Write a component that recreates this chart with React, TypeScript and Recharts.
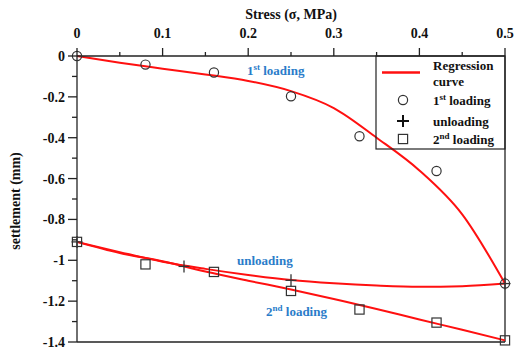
import React from "react";
import {
  ComposedChart,
  Line,
  Scatter,
  XAxis,
  YAxis,
  ReferenceLine,
} from "recharts";

// ---- data ----
const stress = [0, 0.08, 0.16, 0.25, 0.33, 0.42, 0.5];
const firstLoading = [0, -0.042, -0.081, -0.197, -0.393, -0.563, -1.114];
const secondLoading = [-0.91, -1.02, -1.057, -1.15, -1.241, -1.305, -1.392];
const unloadStress = [0, 0.125, 0.25, 0.5];
const unloading = [-0.91, -1.03, -1.098, -1.114];

const fitStress = [0, 0.05, 0.1, 0.15, 0.2, 0.25, 0.3, 0.35, 0.4, 0.45, 0.5];
const firstFit = [0, -0.033, -0.062, -0.09, -0.122, -0.172, -0.255, -0.4, -0.56, -0.775, -1.114];
const unloadFit = [-0.91, -0.96, -1.007, -1.042, -1.072, -1.097, -1.113, -1.124, -1.13, -1.127, -1.114];
const secondFit = [-0.91, -0.965, -1.005, -1.055, -1.1, -1.143, -1.19, -1.238, -1.29, -1.34, -1.392];

const xTicks = [0, 0.05, 0.1, 0.15, 0.2, 0.25, 0.3, 0.35, 0.4, 0.45, 0.5];
const yTicks = [0, -0.1, -0.2, -0.3, -0.4, -0.5, -0.6, -0.7, -0.8, -0.9, -1, -1.1, -1.2, -1.3, -1.4];

const xTitle = "Stress (σ, MPa)";
const yTitle = "settlement (mm)";

const toPts = (xs: number[], ys: number[]) => xs.map((x, i) => ({ x, y: ys[i] }));

const FONT = "'Liberation Serif', 'Times New Roman', serif";
const AXIS = "#222";
const RED = "#ff1010";
const BLUE = "#2a7cc9";
const MARK = "#333";

const TICK_SIZE = 8;
const TICK_MARGIN = 2;

const XTick = (props: any) => {
  const { x, y, payload } = props;
  const v = payload.value as number;
  const axisY = y + TICK_SIZE + TICK_MARGIN;
  const major = Math.round(v * 100) % 10 === 0;
  return (
    <g>
      <line x1={x} x2={x} y1={axisY} y2={axisY - (major ? 8 : 4)} stroke={AXIS} strokeWidth={1.3} />
      {major && (
        <text x={x} y={axisY - 18} textAnchor="middle" fontFamily={FONT} fontWeight="bold" fontSize={14} fill="#111">
          {String(v)}
        </text>
      )}
    </g>
  );
};

const YTick = (props: any) => {
  const { x, y, payload } = props;
  const v = payload.value as number;
  const axisX = x + TICK_SIZE + TICK_MARGIN;
  const major = Math.round(Math.abs(v) * 10) % 2 === 0;
  return (
    <g>
      <line x1={axisX} x2={axisX - (major ? 9 : 5)} y1={y} y2={y} stroke={AXIS} strokeWidth={1.3} />
      {major && (
        <text x={axisX - 12} y={y + 5} textAnchor="end" fontFamily={FONT} fontWeight="bold" fontSize={14} fill="#111">
          {String(v)}
        </text>
      )}
    </g>
  );
};

const CircleShape = (p: any) => (
  <circle cx={p.cx} cy={p.cy} r={4.6} fill="none" stroke={MARK} strokeWidth={1.2} />
);
const SquareShape = (p: any) => (
  <rect x={p.cx - 4.6} y={p.cy - 4.6} width={9.2} height={9.2} fill="none" stroke={MARK} strokeWidth={1.2} />
);
const PlusShape = (p: any) => (
  <g stroke={MARK} strokeWidth={1.3}>
    <line x1={p.cx - 5.5} x2={p.cx + 5.5} y1={p.cy} y2={p.cy} />
    <line x1={p.cx} x2={p.cx} y1={p.cy - 6} y2={p.cy + 6} />
  </g>
);

const Sup = ({ base, sup, rest }: { base: string; sup: string; rest: string }) => (
  <>
    <tspan>{base}</tspan>
    <tspan fontSize={9} dy={-5}>{sup}</tspan>
    <tspan dy={5}>{rest}</tspan>
  </>
);

export default function App() {
  const W = 515;
  const H = 351;
  return (
    <div style={{ position: "fixed", left: 0, top: 0, width: W, height: H, background: "#fff" }}>
      <ComposedChart width={W} height={H} margin={{ top: 26, left: 17, right: 10, bottom: 9 }}>
        <XAxis
          xAxisId={0}
          type="number"
          dataKey="x"
          orientation="top"
          domain={[0, 0.5]}
          ticks={xTicks}
          interval={0}
          height={30}
          tickSize={TICK_SIZE}
          tickMargin={TICK_MARGIN}
          tickLine={{ stroke: "none" }}
          axisLine={{ stroke: AXIS, strokeWidth: 1.3 }}
          tick={<XTick />}
        />
        <YAxis
          yAxisId={0}
          type="number"
          dataKey="y"
          domain={[-1.4, 0]}
          ticks={yTicks}
          interval={0}
          width={60}
          tickSize={TICK_SIZE}
          tickMargin={TICK_MARGIN}
          tickLine={{ stroke: "none" }}
          axisLine={{ stroke: AXIS, strokeWidth: 1.3 }}
          tick={<YTick />}
        />
        <ReferenceLine x={0.5} stroke={AXIS} strokeWidth={1.3} />
        <ReferenceLine y={-1.4} stroke={AXIS} strokeWidth={1.3} />

        <Line data={toPts(fitStress, firstFit)} dataKey="y" type="monotone" stroke={RED} strokeWidth={2} dot={false} activeDot={false} isAnimationActive={false} />
        <Line data={toPts(fitStress, unloadFit)} dataKey="y" type="monotone" stroke={RED} strokeWidth={2} dot={false} activeDot={false} isAnimationActive={false} />
        <Line data={toPts(fitStress, secondFit)} dataKey="y" type="monotone" stroke={RED} strokeWidth={2} dot={false} activeDot={false} isAnimationActive={false} />

        <Scatter data={toPts(stress, firstLoading)} dataKey="y" shape={CircleShape} isAnimationActive={false} />
        <Scatter data={toPts(unloadStress, unloading)} dataKey="y" shape={PlusShape} isAnimationActive={false} />
        <Scatter data={toPts(stress, secondLoading)} dataKey="y" shape={SquareShape} isAnimationActive={false} />
      </ComposedChart>

      <svg width={W} height={H} style={{ position: "absolute", left: 0, top: 0, pointerEvents: "none" }}>
        <g fontFamily={FONT} fontWeight="bold">
          <text x={291} y={19} textAnchor="middle" fontSize={14} fill="#111">{xTitle}</text>
          <text x={15} y={201} textAnchor="middle" dominantBaseline="central" fontSize={14} fill="#111" transform="rotate(-90 15 201)">
            {yTitle}
          </text>

          {/* legend */}
          <rect x={376} y={56} width={129} height={93} fill="none" stroke={AXIS} strokeWidth={1.2} />
          <line x1={382} x2={420} y1={72.5} y2={72.5} stroke={RED} strokeWidth={2.5} />
          <text x={433} y={69.5} fontSize={13} fill="#111">Regression</text>
          <text x={433} y={86} fontSize={13} fill="#111">curve</text>
          <circle cx={403} cy={100} r={4.6} fill="none" stroke={MARK} strokeWidth={1.2} />
          <text x={433} y={104.5} fontSize={13} fill="#111"><Sup base="1" sup="st" rest=" loading" /></text>
          <g stroke="#111" strokeWidth={2}>
            <line x1={397} x2={409} y1={121} y2={121} />
            <line x1={403} x2={403} y1={115} y2={127} />
          </g>
          <text x={433} y={125.5} fontSize={13} fill="#111">unloading</text>
          <rect x={398.4} y={134.4} width={9.2} height={9.2} fill="none" stroke={MARK} strokeWidth={1.2} />
          <text x={433} y={143.5} fontSize={13} fill="#111"><Sup base="2" sup="nd" rest=" loading" /></text>

          {/* annotations */}
          <text x={247} y={74.5} fontSize={13} fill={BLUE}><Sup base="1" sup="st" rest="  loading" /></text>
          <text x={237} y={265} fontSize={13} fill={BLUE}>unloading</text>
          <text x={266} y={316} fontSize={13} fill={BLUE}><Sup base="2" sup="nd" rest=" loading" /></text>
        </g>
      </svg>
    </div>
  );
}
